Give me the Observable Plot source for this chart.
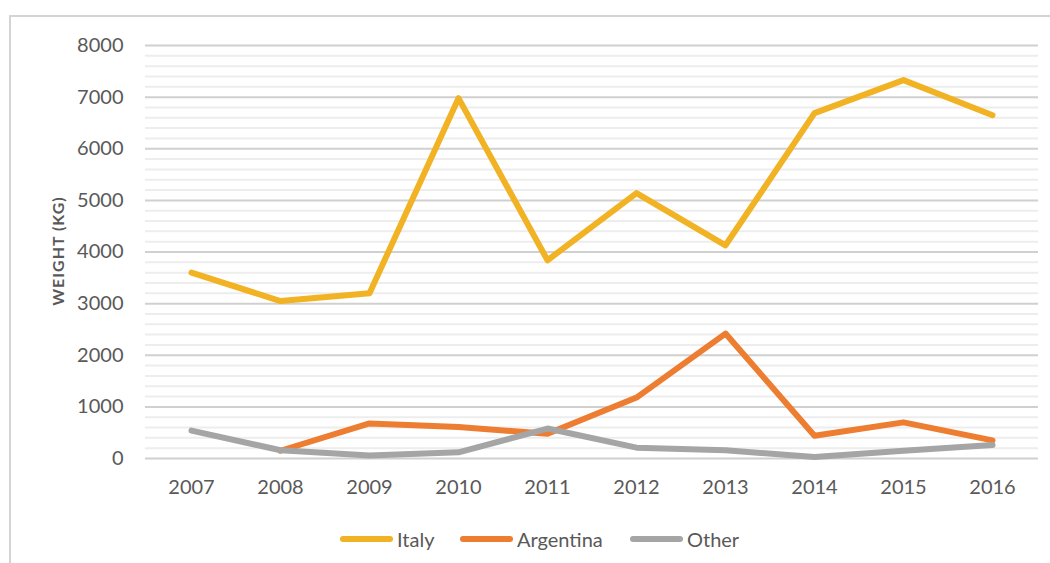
<!DOCTYPE html>
<html>
<head>
<meta charset="utf-8">
<script src="https://cdn.jsdelivr.net/npm/d3@7"></script>
<script src="https://cdn.jsdelivr.net/npm/@observablehq/plot@0.6"></script>
<style>
  html, body { margin: 0; padding: 0; background: #fff; }
  #wrap { position: relative; width: 1050px; height: 563px; overflow: hidden; font-family: Lato, "Open Sans", sans-serif; }
  #frame { position: absolute; left: 9px; top: 15px; width: 1100px; height: 600px; border: 2px solid #d4d4d4; box-sizing: border-box; }
  #chart { position: absolute; left: 0; top: 0; }
  #legend { position: absolute; left: 0; top: 526px; width: 1050px; height: 26px; }
  .item { position: absolute; top: 0; display: flex; align-items: center; height: 26px; font-size: 20px; color: #595959; }
  .sw { width: 53px; height: 6px; border-radius: 3px; margin-right: 4px; }
</style>
</head>
<body>
<div id="wrap">
  <div id="frame"></div>
  <div id="chart"></div>
  <div id="legend"></div>
</div>
<script>
const years = ["2007","2008","2009","2010","2011","2012","2013","2014","2015","2016"];
const italy = [3600, 3050, 3200, 6980, 3840, 5140, 4130, 6690, 7330, 6650];
const argentina = [null, 150, 680, 610, 480, 1180, 2420, 440, 700, 350];
const other = [540, 160, 60, 120, 580, 210, 160, 30, 150, 260];
const seriesNames = ["Italy", "Argentina", "Other"];
const seriesColors = ["#f1b224", "#ed7d31", "#a5a5a5"];
const yTicks = [0, 1000, 2000, 3000, 4000, 5000, 6000, 7000, 8000];
const minorTicks = d3.range(0, 8001, 200).filter(v => v % 1000 !== 0);

const seriesValues = [italy, argentina, other];
const data = [];
seriesNames.forEach((name, i) => {
  years.forEach((yr, j) => {
    const v = seriesValues[i][j];
    if (v != null) data.push({ series: name, year: yr, value: v });
  });
});

const plot = Plot.plot({
  width: 1050,
  height: 515,
  marginLeft: 145,
  marginRight: 12,
  marginTop: 45,
  marginBottom: 57,
  style: { fontFamily: "Lato, 'Open Sans', sans-serif", fontSize: "20px", color: "#595959", background: "transparent" },
  x: { type: "point", domain: years, padding: 0.5, label: null },
  y: { domain: [0, 8000], label: null },
  color: { domain: seriesNames, range: seriesColors },
  marks: [
    Plot.ruleY(minorTicks, { stroke: "#ededed", strokeWidth: 2 }),
    Plot.ruleY(yTicks, { stroke: "#d0d0d0", strokeWidth: 2 }),
    Plot.axisY({ ticks: yTicks, tickSize: 0, tickPadding: 22, fontSize: 20, fill: "#595959", tickFormat: d => String(d) }),
    Plot.axisX({ ticks: years, tickSize: 0, tickPadding: 21, fontSize: 20, fill: "#595959" }),
    Plot.line(data, { x: "year", y: "value", z: "series", stroke: "series", strokeWidth: 6, strokeLinejoin: "round", strokeLinecap: "round" })
  ]
});
document.getElementById("chart").appendChild(plot);

// y axis title
const svg = d3.select(plot);
svg.append("text")
  .attr("transform", "translate(64,251) rotate(-90)")
  .attr("text-anchor", "middle")
  .attr("font-size", 16)
  .attr("font-weight", "bold")
  .attr("letter-spacing", "1")
  .attr("fill", "#595959")
  .text("WEIGHT (KG)");

// legend
const legendLeft = [340, 460, 630];
const legend = document.getElementById("legend");
seriesNames.forEach((name, i) => {
  const item = document.createElement("div");
  item.className = "item";
  item.style.left = legendLeft[i] + "px";
  const sw = document.createElement("div");
  sw.className = "sw";
  sw.style.background = seriesColors[i];
  const label = document.createElement("span");
  label.textContent = name;
  item.appendChild(sw);
  item.appendChild(label);
  legend.appendChild(item);
});
</script>
</body>
</html>
